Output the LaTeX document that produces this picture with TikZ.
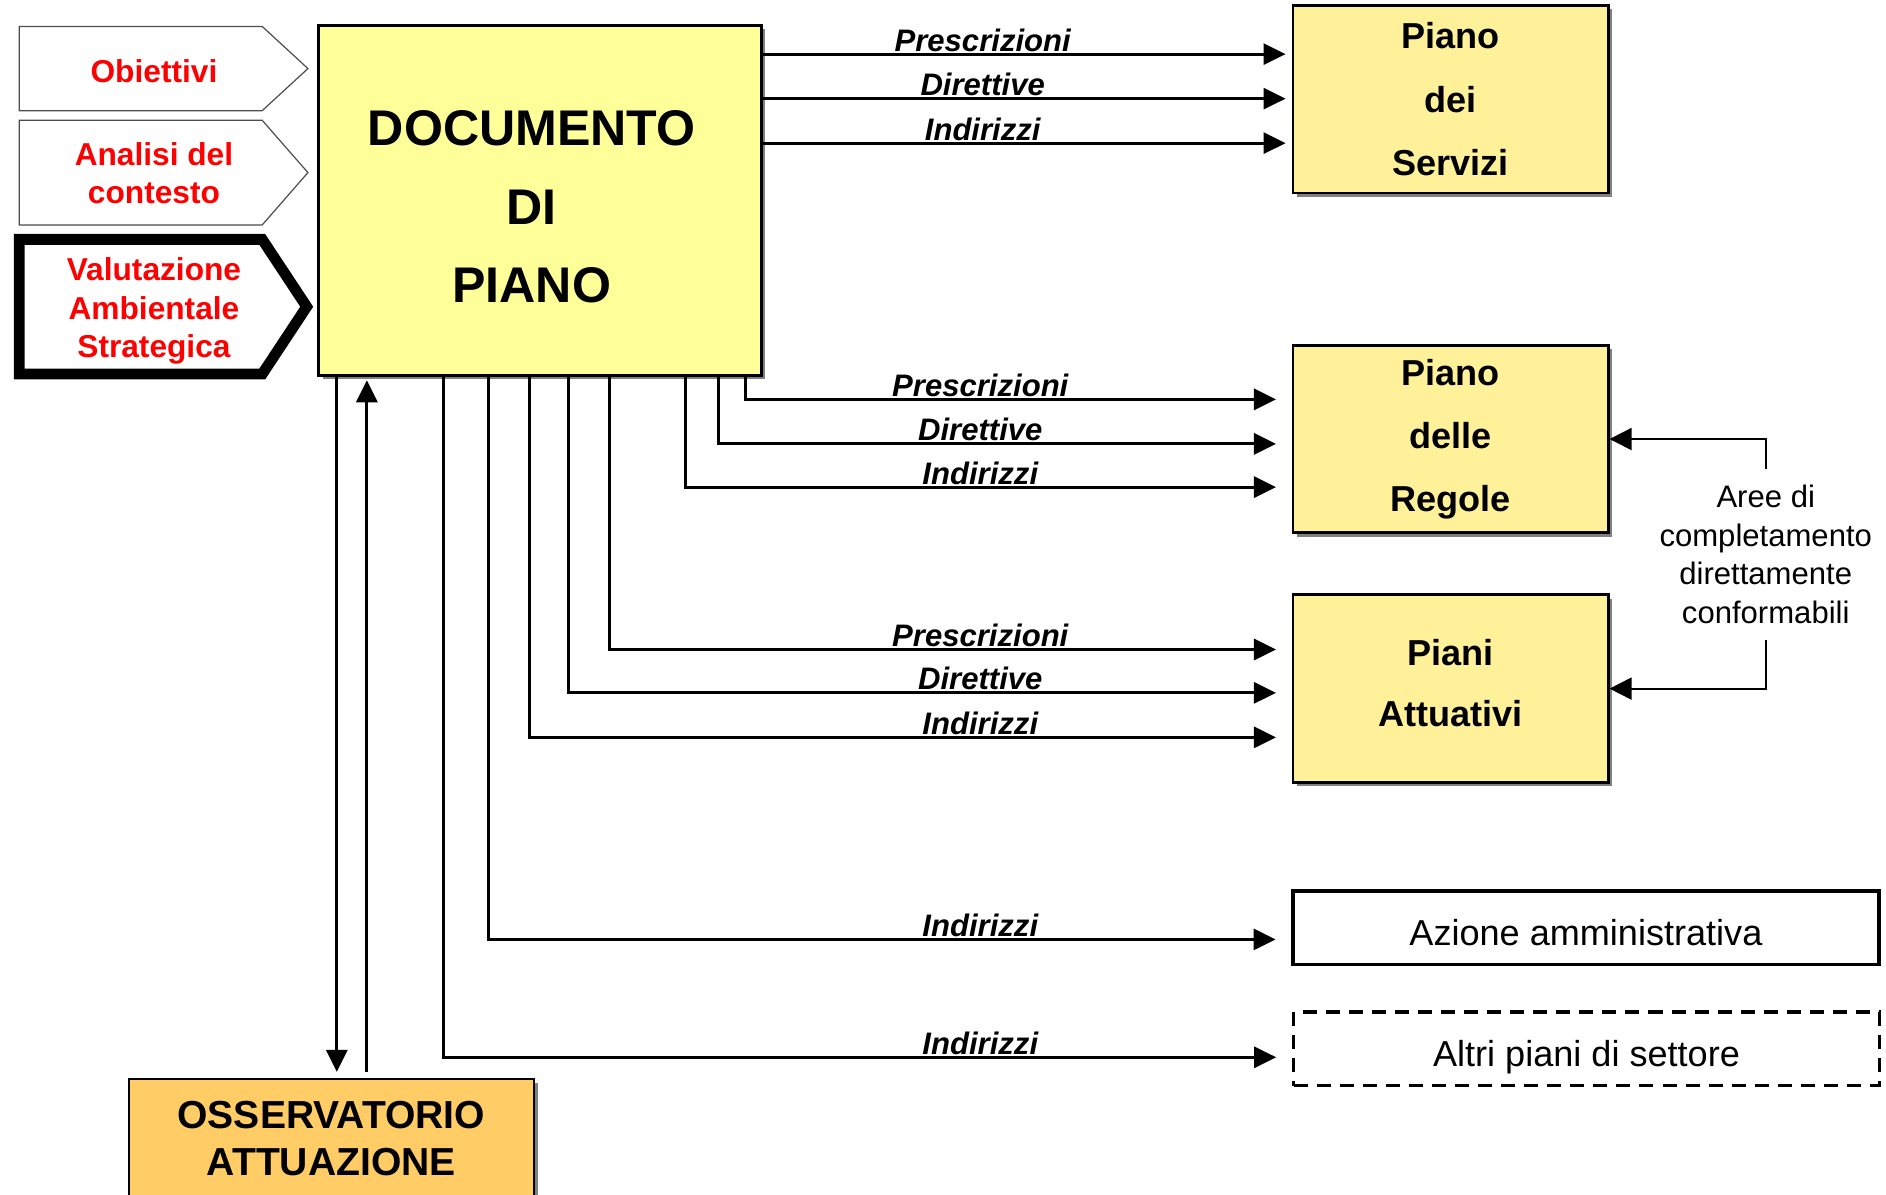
\documentclass[tikz,border=0pt]{standalone}
\usepackage{fontspec}
\setmainfont{Liberation Sans}
\usetikzlibrary{arrows.meta,shadows}

\definecolor{docyellow}{HTML}{FFFF99}
\definecolor{planyellow}{HTML}{FFF199}
\definecolor{obsorange}{HTML}{FFCC66}

\begin{document}
\begin{tikzpicture}[
            x=0.6pt, y=-0.6pt,
            shd/.style={general shadow={fill=black!50, shadow xshift=2pt, shadow yshift=-2pt}},
            docbox/.style={draw, line width=1.4pt, fill=docyellow, shd, minimum width=220.8pt, minimum height=174.6pt},
            doctext/.style={align=center, font=\fontsize{25}{39.3}\selectfont\bfseries},
            plan/.style={draw, line width=1.4pt, fill=planyellow, shd, minimum width=157.2pt, minimum height=93.6pt, align=center, font=\fontsize{18}{31.5}\selectfont\bfseries},
            obs/.style={draw, line width=1pt, fill=obsorange, shd, minimum width=202.2pt, minimum height=59.4pt, align=center, font=\fontsize{19.5}{23.4}\selectfont\bfseries},
            act/.style={draw, line width=1.8pt, minimum width=292.2pt, minimum height=36.6pt, text height=18pt, text depth=0.8pt, font=\fontsize{18}{21}\selectfont},
            intext/.style={text=red, align=center, font=\fontsize{15.8}{19.2}\selectfont\bfseries},
            lbl/.style={anchor=base, inner sep=0pt, font=\fontsize{15.5}{18}\selectfont\bfseries\itshape},
            note/.style={align=center, inner xsep=2pt, inner ysep=8pt, font=\fontsize{15.5}{19.2}\selectfont},
            arr/.style={-{Triangle[length=11pt, width=10.5pt]}, line width=1.5pt, shorten >=7.8pt},
            thinarr/.style={-{Triangle[length=11pt, width=11pt]}, line width=0.9pt}
        ]
        \useasboundingbox (0,0) rectangle (1568,993);

        % Input shapes
        \draw[draw=black!70, line width=0.6pt] (16,22) -- (218,22) -- (256,57) -- (218,92) -- (16,92) -- cycle;
        \draw[draw=black!70, line width=0.6pt] (16,100) -- (218,100) -- (256,143.5) -- (218,187) -- (16,187) -- cycle;
        \draw[line width=5.4pt] (16,199) -- (218,199) -- (255,255) -- (218,311) -- (16,311) -- cycle;
        \node[intext] (OB) at (128,59)  {Obiettivi};
        \node[intext] (AC) at (128,144) {Analisi del\\contesto};
        \node[intext] (VA) at (128,258.5) {Valutazione\\Ambientale\\Strategica};

        % Main document
        \node[docbox] (DP) at (449,166.5) {};
        \node[doctext] (DT) at (442,172) {DOCUMENTO\\DI\\PIANO};

        % Plans
        \node[plan] (PS) at (1206,82.5)  {Piano\\dei\\Servizi};
        \node[plan] (PR) at (1206,365)   {Piano\\delle\\Regole};
        \node[plan, text depth=5.4pt] (PA) at (1206,572.5) {Piani\\[-1pt]Attuativi};

        % Other targets
        \node[act] (AZ) at (1318.5,771.5) {Azione amministrativa};
        \node[act, dash pattern=on 7pt off 4.5pt] (AP) at (1319,872) {Altri piani di settore};

        % Observatory
        \node[obs] (OS) at (275.5,946.5) {OSSERVATORIO\\ATTUAZIONE};

        % Note
        \node[note] (AR) at (1468,461) {Aree di\\completamento\\direttamente\\conformabili};

        % DP -> PS connections
        \coordinate (a1) at (0,45);
        \coordinate (a2) at (0,82);
        \coordinate (a3) at (0,119);
        \draw[arr, shorten >=3pt] (DP.east |- a1) -- (PS.west |- a1);
        \draw[arr, shorten >=3pt] (DP.east |- a2) -- (PS.west |- a2);
        \draw[arr, shorten >=3pt] (DP.east |- a3) -- (PS.west |- a3);
        \node[lbl] (la1) at (817,42.5)  {Prescrizioni};
        \node[lbl] (la2) at (817,79.5)  {Direttive};
        \node[lbl] (la3) at (817,116.5) {Indirizzi};

        % DP -> PR connections
        \coordinate (b1) at (620,332);
        \coordinate (b2) at (597,369);
        \coordinate (b3) at (570,405);
        \draw[arr] (DP.south -| b1) |- (PR.west |- b1);
        \draw[arr] (DP.south -| b2) |- (PR.west |- b2);
        \draw[arr] (DP.south -| b3) |- (PR.west |- b3);
        \node[lbl] (lb1) at (815,329.5) {Prescrizioni};
        \node[lbl] (lb2) at (815,366.5) {Direttive};
        \node[lbl] (lb3) at (815,402.5) {Indirizzi};

        % DP -> PA connections
        \coordinate (c1) at (507,540);
        \coordinate (c2) at (473,576);
        \coordinate (c3) at (440,613);
        \draw[arr] (DP.south -| c1) |- (PA.west |- c1);
        \draw[arr] (DP.south -| c2) |- (PA.west |- c2);
        \draw[arr] (DP.south -| c3) |- (PA.west |- c3);
        \node[lbl] (lc1) at (815,537.5) {Prescrizioni};
        \node[lbl] (lc2) at (815,573.5) {Direttive};
        \node[lbl] (lc3) at (815,610.5) {Indirizzi};

        % DP -> AZ, AP connections
        \coordinate (d1) at (406,781);
        \coordinate (d2) at (369,879);
        \draw[arr] (DP.south -| d1) |- (AZ.west |- d1);
        \draw[arr] (DP.south -| d2) |- (AP.west |- d2);
        \node[lbl] (ld1) at (815,778.5) {Indirizzi};
        \node[lbl] (ld2) at (815,876.5) {Indirizzi};

        % DP <-> OS
        \coordinate (f1) at (280,0);
        \coordinate (f2) at (305,0);
        \draw[arr, shorten >=3pt] (DP.south -| f1) -- (OS.north -| f1);
        \draw[arr, shorten >=1.8pt, shorten <=3pt] (OS.north -| f2) -- (DP.south -| f2);

        % AR -> PR, PA
        \draw[thinarr] (AR.north) |- (PR.east);
        \draw[thinarr] (AR.south) |- (PA.east);
    \end{tikzpicture}
\end{document}
